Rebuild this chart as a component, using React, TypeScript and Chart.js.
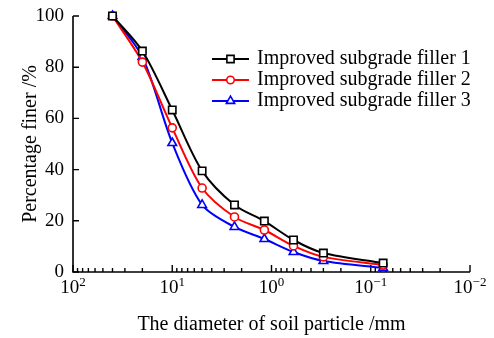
import React, { useEffect, useRef } from "react";
import { Chart, registerables } from "chart.js";

Chart.register(...registerables);

// Particle diameters (mm) of the sieve sizes
const particleSizes = [40, 20, 10, 5, 2.36, 1.18, 0.6, 0.3, 0.075];
// Percentage finer for each filler
const filler1 = [100, 86.3, 63.3, 39.5, 26.2, 19.9, 12.5, 7.4, 3.5];
const filler2 = [100, 82, 56.3, 32.8, 21.5, 16.4, 10.2, 5.9, 2.7];
const filler3 = [100, 84, 50.4, 26.2, 17.6, 12.9, 7.8, 4.3, 1.6];

const seriesNames = [
  "Improved subgrade filler 1",
  "Improved subgrade filler 2",
  "Improved subgrade filler 3",
];
const seriesColors = ["#000000", "#ff0000", "#0000ff"];
const seriesMarkers = ["rect", "circle", "triangle"];

const yTickValues = [0, 20, 40, 60, 80, 100];
const xTickExponents = [2, 1, 0, -1, -2];
const xTitle = "The diameter of soil particle /mm";
const yTitle = "Percentage finer /%";

const FONT = "'Liberation Serif', 'Times New Roman', serif";

function drawMarker(ctx: CanvasRenderingContext2D, kind: string, x: number, y: number, color: string) {
  ctx.save();
  ctx.fillStyle = "#ffffff";
  ctx.strokeStyle = color;
  ctx.lineWidth = 1.6;
  ctx.beginPath();
  if (kind === "rect") {
    ctx.rect(x - 3.6, y - 3.6, 7.2, 7.2);
  } else if (kind === "circle") {
    ctx.arc(x, y, 3.8, 0, Math.PI * 2);
  } else {
    const r = 4.8;
    ctx.moveTo(x, y - r);
    ctx.lineTo(x + r * Math.sin(Math.PI / 3), y + r * 0.5);
    ctx.lineTo(x - r * Math.sin(Math.PI / 3), y + r * 0.5);
    ctx.closePath();
  }
  ctx.fill();
  ctx.stroke();
  ctx.restore();
}

const axesPlugin = {
  id: "customAxes",
  beforeDatasetsDraw(chart: any) {
    const { ctx, chartArea: a, scales } = chart;
    const xs = scales.x;
    const ys = scales.y;
    ctx.save();
    ctx.strokeStyle = "#000";
    ctx.lineWidth = 1.6;
    ctx.beginPath();
    ctx.moveTo(a.left, a.top);
    ctx.lineTo(a.left, a.bottom);
    ctx.lineTo(a.right, a.bottom);
    ctx.stroke();
    ctx.lineWidth = 1.4;
    ctx.beginPath();
    yTickValues.forEach((v) => {
      const y = ys.getPixelForValue(v);
      ctx.moveTo(a.left, y);
      ctx.lineTo(a.left + 6, y);
    });
    xTickExponents.forEach((e) => {
      const base = Math.pow(10, e);
      const xp = xs.getPixelForValue(base);
      ctx.moveTo(xp, a.bottom);
      ctx.lineTo(xp, a.bottom - 7);
      if (e < 2) {
        for (let m = 2; m <= 9; m++) {
          const xm = xs.getPixelForValue(m * base);
          ctx.moveTo(xm, a.bottom);
          ctx.lineTo(xm, a.bottom - 4);
        }
      }
    });
    ctx.stroke();

    // x tick labels with superscript exponents
    ctx.fillStyle = "#000";
    ctx.textBaseline = "alphabetic";
    xTickExponents.forEach((e) => {
      const xp = xs.getPixelForValue(Math.pow(10, e));
      const baseText = "10";
      const expText = e < 0 ? "\u2212" + Math.abs(e) : String(e);
      ctx.font = `19px ${FONT}`;
      const w1 = ctx.measureText(baseText).width;
      ctx.font = `13px ${FONT}`;
      const w2 = ctx.measureText(expText).width;
      const start = xp - (w1 + w2) / 2;
      ctx.font = `19px ${FONT}`;
      ctx.textAlign = "left";
      ctx.fillText(baseText, start, a.bottom + 21);
      ctx.font = `13px ${FONT}`;
      ctx.fillText(expText, start + w1, a.bottom + 14);
    });
    ctx.restore();
  },
  afterDraw(chart: any) {
    const { ctx, chartArea: a } = chart;
    const x0 = a.left + 139;
    const lineLen = 37;
    ctx.save();
    chart.data.datasets.forEach((ds: any, i: number) => {
      const y = a.top + 43 + i * 21;
      ctx.strokeStyle = ds.borderColor;
      ctx.lineWidth = 2;
      ctx.beginPath();
      ctx.moveTo(x0, y);
      ctx.lineTo(x0 + lineLen, y);
      ctx.stroke();
      drawMarker(ctx, seriesMarkers[i], x0 + lineLen / 2, y, ds.borderColor);
      ctx.fillStyle = "#000";
      ctx.font = `20px ${FONT}`;
      ctx.textAlign = "left";
      ctx.textBaseline = "alphabetic";
      ctx.fillText(ds.label, x0 + 45, y + 5);
    });
    ctx.restore();
  },
};

export default function App() {
  const ref = useRef<HTMLCanvasElement | null>(null);

  useEffect(() => {
    if (!ref.current) return;
    Chart.defaults.font.family = FONT;
    Chart.defaults.color = "#000";
    const allSeries = [filler1, filler2, filler3];
    const chart = new Chart(ref.current, {
      type: "line",
      data: {
        datasets: allSeries.map((vals, i) => ({
          label: seriesNames[i],
          data: particleSizes.map((x, j) => ({ x, y: vals[j] })),
          borderColor: seriesColors[i],
          backgroundColor: "#ffffff",
          borderWidth: 2,
          pointStyle: seriesMarkers[i] as any,
          pointRadius: seriesMarkers[i] === "rect" ? 5.2 : seriesMarkers[i] === "circle" ? 4 : 5,
          pointBorderWidth: 1.6,
          pointBackgroundColor: "#ffffff",
          pointBorderColor: seriesColors[i],
          tension: 0.3,
          clip: false,
        })),
      },
      options: {
        animation: false,
        responsive: false,
        layout: { padding: { left: 0, right: 24, top: 16, bottom: 0 } },
        plugins: { legend: { display: false }, tooltip: { enabled: false } },
        scales: {
          x: {
            type: "logarithmic",
            reverse: true,
            min: 0.01,
            max: 100,
            grid: { display: false, drawTicks: false },
            border: { display: false },
            ticks: { display: false },
            title: {
              display: true,
              text: xTitle,
              font: { size: 20, family: FONT },
              color: "#000",
              padding: { top: 0, bottom: 1 },
            },
            afterFit: (scale: any) => {
              scale.height = 66;
              scale.paddingLeft = 0;
              scale.paddingRight = 0;
            },
          },
          y: {
            min: 0,
            max: 100,
            grid: { display: false, drawTicks: false },
            border: { display: false },
            ticks: {
              stepSize: 20,
              font: { size: 19, family: FONT },
              color: "#000",
              padding: 9,
            },
            afterBuildTicks: (scale: any) => {
              scale.ticks = yTickValues.map((v) => ({ value: v }));
            },
            title: {
              display: true,
              text: yTitle,
              font: { size: 20, family: FONT },
              color: "#000",
              padding: { top: 19, bottom: 0 },
            },
            afterFit: (scale: any) => {
              scale.width = 73;
              scale.paddingTop = 0;
              scale.paddingBottom = 0;
            },
          },
        },
      },
      plugins: [axesPlugin],
    } as any);
    return () => chart.destroy();
  }, []);

  return (
    <div style={{ position: "fixed", left: 0, top: 0, width: 494, height: 338, background: "#fff" }}>
      <canvas ref={ref} width={494} height={338} style={{ display: "block" }} />
    </div>
  );
}
